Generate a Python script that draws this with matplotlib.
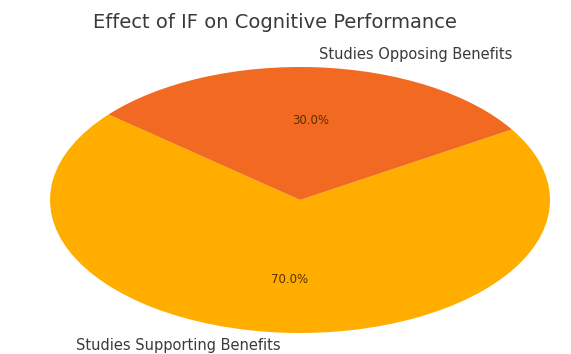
import matplotlib.pyplot as plt

labels = ['Studies Supporting Benefits', 'Studies Opposing Benefits']
shares = [70, 30]
colors = ['#ffae00', '#f26a21']

W, H = 571, 354
fig = plt.figure(figsize=(W / 100, H / 100), dpi=100)
ax = fig.add_axes([0, 0, 1, 1])

wedges, texts, autotexts = ax.pie(shares, labels=labels, colors=colors,
                                  autopct='%1.1f%%', startangle=140,
                                  textprops={'fontsize': 10.5, 'color': '#3a3a3a'})
for t in autotexts:
    t.set_fontsize(8.5)
    t.set_color('#5a3000')

# stretch the pie into a wide ellipse
ax.set_aspect('auto')
cx, cy, rx, ry = 300, 200, 250, 133
ax.set_xlim(-cx / rx, (W - cx) / rx)
ax.set_ylim(-(H - cy) / ry, cy / ry)

fig.text(275 / W, 1 - 22 / H, 'Effect of IF on Cognitive Performance',
         ha='center', va='center', fontsize=14, color='#3a3a3a')

fig.savefig('out.png', dpi=100)
